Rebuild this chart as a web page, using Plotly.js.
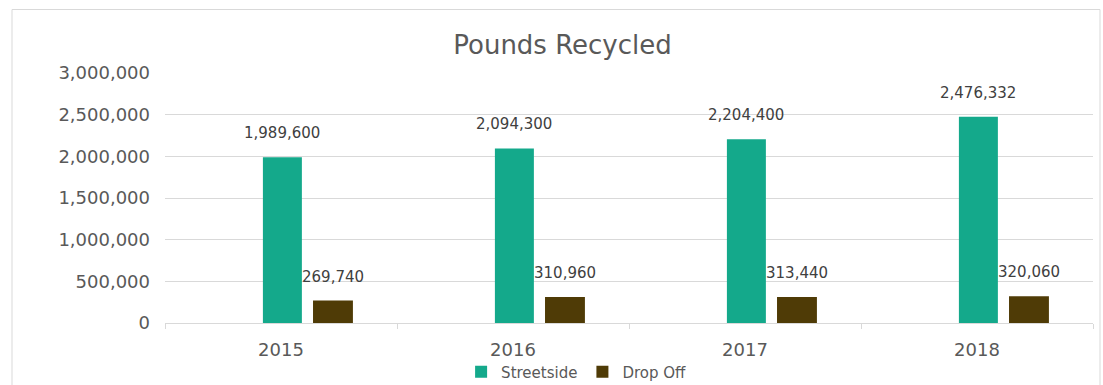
<!DOCTYPE html>
<html>
<head>
<meta charset="utf-8">
<script src="https://cdn.plot.ly/plotly-3.0.1.min.js"></script>
<style>
  html, body { margin: 0; padding: 0; background: #ffffff; }
  #chart { width: 1103px; height: 385px; }
</style>
</head>
<body>
<div id="chart"></div>
<script>
// ---- data ----
const years = ["2015", "2016", "2017", "2018"];
const streetside = [1989600, 2094300, 2204400, 2476332];
const dropOff = [269740, 310960, 313440, 320060];
const seriesNames = ["Streetside", "Drop Off"];
const yTicks = [0, 500000, 1000000, 1500000, 2000000, 2500000, 3000000];

// ---- styling ----
const green = "#14a98b";
const brown = "#4f3b06";
const gray = "#595959";
const font = "DejaVu Sans, Verdana, sans-serif";

const w1 = 0.168, off1 = -0.078;
const w2 = 0.172, off2 = 0.138;

const fmt = v => v.toLocaleString("en-US");

const traces = [
  {
    type: "bar", name: seriesNames[0], x: years, y: streetside,
    width: w1, offset: off1, marker: { color: green },
    hoverinfo: "x+y"
  },
  {
    type: "bar", name: seriesNames[1], x: years, y: dropOff,
    width: w2, offset: off2, marker: { color: brown },
    hoverinfo: "x+y"
  }
];

const annotations = [];
years.forEach((yr, i) => {
  annotations.push({
    x: i + off1 + w1 / 2, y: streetside[i], xref: "x", yref: "y",
    text: fmt(streetside[i]), showarrow: false, yanchor: "bottom", yshift: 13,
    font: { family: font, size: 15, color: "#404040" }
  });
  annotations.push({
    x: i + off2 + w2 / 2, y: dropOff[i], xref: "x", yref: "y",
    text: fmt(dropOff[i]), showarrow: false, yanchor: "bottom", yshift: 13,
    font: { family: font, size: 15, color: "#404040" }
  });
});

const layout = {
  width: 1103, height: 385,
  margin: { l: 165, r: 10, t: 73, b: 62, autoexpand: false },
  paper_bgcolor: "#ffffff", plot_bgcolor: "#ffffff",
  font: { family: font, color: gray },
  title: {
    text: "Pounds Recycled",
    font: { family: font, size: 26, color: gray },
    x: 0.51, xref: "container", xanchor: "center",
    y: 1 - 45 / 385, yref: "container", yanchor: "middle"
  },
  showlegend: true,
  legend: {
    orientation: "h", x: 0.443, xanchor: "center", y: -0.196, yanchor: "middle",
    font: { family: font, size: 15, color: gray },
    traceorder: "normal", itemwidth: 20
  },
  xaxis: {
    type: "category", range: [-0.5, 3.5],
    showline: true, linecolor: "#d9d9d9", linewidth: 1,
    ticks: "outside", tickson: "boundaries", ticklen: 5, tickcolor: "#d9d9d9",
    ticklabelstandoff: 10, automargin: false,
    showgrid: false, tickfont: { family: font, size: 18, color: gray },
    fixedrange: true
  },
  yaxis: {
    range: [0, 3000000], tickvals: yTicks, tickformat: ",d",
    showgrid: true, gridcolor: "#d9d9d9", gridwidth: 1,
    zeroline: false, showline: false, ticks: "",
    ticklabelstandoff: 14, automargin: false,
    tickfont: { family: font, size: 18, color: gray },
    fixedrange: true
  },
  annotations: annotations,
  shapes: [{
    type: "rect", xref: "paper", yref: "paper",
    x0: (12 - 165) / 928, x1: (1100 - 165) / 928,
    y0: -0.5, y1: (323 - 9.5) / 250,
    line: { color: "#d9d9d9", width: 1 }, fillcolor: "rgba(0,0,0,0)", layer: "below"
  }]
};

Plotly.newPlot("chart", traces, layout, { displayModeBar: false, staticPlot: true });
</script>
</body>
</html>
